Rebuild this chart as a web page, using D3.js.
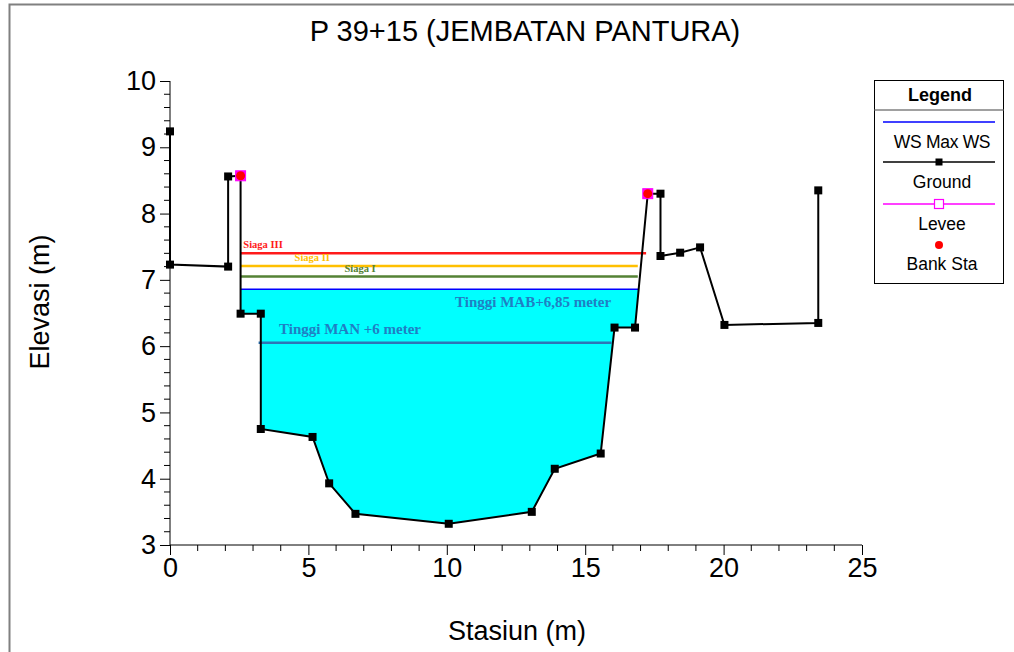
<!DOCTYPE html>
<html><head><meta charset="utf-8">
<script src="https://cdn.jsdelivr.net/npm/d3@7"></script>
<style>html,body{margin:0;padding:0;background:#fff;}svg{display:block;font-family:Arial,"Liberation Sans",sans-serif;}</style>
</head><body>
<svg id="c" width="1014" height="652"></svg>
<script>
const title = "P 39+15 (JEMBATAN PANTURA)";
const groundX = [0, 0, 2.1, 2.1, 2.55, 2.55, 3.28, 3.28, 5.15, 5.75, 6.7, 10.07, 13.07, 13.9, 15.56, 16.06, 16.8, 17.26, 17.72, 17.72, 18.43, 19.15, 20.03, 23.42, 23.42];
const groundY = [9.24, 7.23, 7.2, 8.56, 8.57, 6.49, 6.49, 4.75, 4.63, 3.93, 3.47, 3.32, 3.5, 4.15, 4.38, 6.28, 6.28, 8.3, 8.3, 7.36, 7.41, 7.49, 6.32, 6.35, 8.35];
const leveeX = [2.55, 17.26];
const leveeY = [8.57, 8.3];
const bankX = [2.55, 17.26];
const bankY = [8.57, 8.3];
const wsMax = 6.86;
const siagaNames = ["Siaga III", "Siaga II", "Siaga I"];
const siagaLevels = [7.4, 7.21, 7.05];
const siagaEnd = [17.2, 16.9, 16.9];
const siagaColors = ["#ff1a1a", "#ffc000", "#548235"];
const manLevel = 6.05;
const manRange = [3.2, 15.95];
const xTicks = [0, 5, 10, 15, 20, 25];
const yTicks = [3, 4, 5, 6, 7, 8, 9, 10];

const svg = d3.select("#c");
const x = d3.scaleLinear().domain([0, 25]).range([170, 862]);
const y = d3.scaleLinear().domain([3, 10]).range([545, 81]);

// frame
svg.append("path").attr("d", "M9.5,652 V4.5 H1014").attr("fill", "none").attr("stroke", "#808080").attr("stroke-width", 2);

// title
svg.append("text").attr("x", 525).attr("y", 41).attr("text-anchor", "middle").attr("font-size", 29).text(title);

// water polygon: ground clipped by ws
const pts = groundX.map((d, i) => [d, groundY[i]]);
function interp(a, b, level) { const t = (level - a[1]) / (b[1] - a[1]); return [a[0] + t * (b[0] - a[0]), level]; }
const chan = pts.slice(4, 18);
const poly = [];
for (let i = 0; i < chan.length - 1; i++) {
  const a = chan[i], b = chan[i + 1];
  if (a[1] <= wsMax) poly.push(a);
  if ((a[1] - wsMax) * (b[1] - wsMax) < 0) poly.push(interp(a, b, wsMax));
}
if (chan[chan.length - 1][1] <= wsMax) poly.push(chan[chan.length - 1]);
svg.append("path").attr("d", d3.line().x(d => x(d[0])).y(d => y(d[1]))(poly) + "Z").attr("fill", "#00ffff");
const wsL = poly[0][0], wsR = poly[poly.length - 1][0];

// axes
const xAxis = d3.axisBottom(x).tickValues(xTicks).tickFormat(d3.format("d")).tickSize(10).tickPadding(3);
const gx = svg.append("g").attr("transform", "translate(0,545)").call(xAxis);
gx.selectAll("text").attr("font-size", 27).attr("fill", "#000").attr("font-family", "Arial, Liberation Sans, sans-serif");
gx.select(".domain").attr("stroke", "#000").attr("d", "M170,0H862");
gx.selectAll(".tick line").attr("stroke", "#000");
const xMinor = d3.range(0, 26, 1).filter(v => v % 5 !== 0);
gx.selectAll(".mx").data(xMinor).enter().append("line").attr("x1", d => x(d)).attr("x2", d => x(d)).attr("y1", 0).attr("y2", 6).attr("stroke", "#000");

const yAxis = d3.axisLeft(y).tickValues(yTicks).tickFormat(d3.format("d")).tickSize(10).tickPadding(4);
const gy = svg.append("g").attr("transform", "translate(170,0)").call(yAxis);
gy.selectAll("text").attr("font-size", 27).attr("fill", "#000").attr("font-family", "Arial, Liberation Sans, sans-serif");
gy.select(".domain").attr("stroke", "#000").attr("d", "M0,545V81");
gy.selectAll(".tick line").attr("stroke", "#000");
const yMinor = d3.range(3, 10.001, 0.2).filter(v => Math.abs(v - Math.round(v)) > 0.01);
gy.selectAll(".my").data(yMinor).enter().append("line").attr("y1", d => y(d)).attr("y2", d => y(d)).attr("x1", 0).attr("x2", -6).attr("stroke", "#000");

svg.append("text").attr("x", 517).attr("y", 640).attr("text-anchor", "middle").attr("font-size", 27).text("Stasiun (m)");
svg.append("text").attr("transform", "translate(49,302) rotate(-90)").attr("text-anchor", "middle").attr("font-size", 27).text("Elevasi (m)");

// siaga lines
siagaLevels.forEach((lv, i) => {
  svg.append("line").attr("x1", x(2.55)).attr("x2", x(siagaEnd[i])).attr("y1", y(lv)).attr("y2", y(lv)).attr("stroke", siagaColors[i]).attr("stroke-width", 2.5);
});
const sLabX = [2.65, 4.5, 6.3];
siagaNames.forEach((n, i) => {
  svg.append("text").attr("x", x(sLabX[i])).attr("y", y(siagaLevels[i]) - 5).attr("font-family", "'Liberation Serif','Times New Roman',serif").attr("font-weight", "bold").attr("font-size", 10.5).attr("fill", siagaColors[i]).text(n);
});

// WS line
svg.append("line").attr("x1", x(wsL)).attr("x2", x(wsR)).attr("y1", y(wsMax)).attr("y2", y(wsMax)).attr("stroke", "#0000ff").attr("stroke-width", 1.5);
// MAN line
svg.append("line").attr("x1", x(manRange[0])).attr("x2", x(manRange[1])).attr("y1", y(manLevel)).attr("y2", y(manLevel)).attr("stroke", "#2e75b6").attr("stroke-width", 2.5);
svg.append("text").attr("x", 455).attr("y", 307).attr("font-family", "'Liberation Serif','Times New Roman',serif").attr("font-weight", "bold").attr("font-size", 15).attr("fill", "#1f7fc4").text("Tinggi MAB+6,85 meter");
svg.append("text").attr("x", 279).attr("y", 334).attr("font-family", "'Liberation Serif','Times New Roman',serif").attr("font-weight", "bold").attr("font-size", 15).attr("fill", "#1f7fc4").text("Tinggi MAN +6 meter");

// ground
svg.append("path").attr("d", d3.line().x(d => x(d[0])).y(d => y(d[1]))(pts)).attr("fill", "none").attr("stroke", "#000").attr("stroke-width", 2);
svg.selectAll(".gp").data(pts).enter().append("rect").attr("x", d => x(d[0]) - 4).attr("y", d => y(d[1]) - 4).attr("width", 8).attr("height", 8).attr("fill", "#000");

// levee
leveeX.forEach((lx, i) => {
  svg.append("rect").attr("x", x(lx) - 5).attr("y", y(leveeY[i]) - 5).attr("width", 10).attr("height", 10).attr("fill", "#ff00ff").attr("stroke", "#ff00ff");
});
bankX.forEach((bx, i) => {
  svg.append("circle").attr("cx", x(bx)).attr("cy", y(bankY[i])).attr("r", 4.5).attr("fill", "#ff0000");
});

// legend
const lg = svg.append("g");
lg.append("rect").attr("x", 874.5).attr("y", 80.5).attr("width", 129).attr("height", 203).attr("fill", "#fff").attr("stroke", "#000");
lg.append("line").attr("x1", 874.5).attr("x2", 1003.5).attr("y1", 110).attr("y2", 110).attr("stroke", "#808080").attr("stroke-width", 1.5);
lg.append("text").attr("x", 940).attr("y", 101).attr("text-anchor", "middle").attr("font-weight", "bold").attr("font-size", 18).text("Legend");
const lx1 = 883, lx2 = 1004 - 9, lcx = (lx1 + lx2) / 2;
lg.append("line").attr("x1", lx1).attr("x2", lx2).attr("y1", 122).attr("y2", 122).attr("stroke", "#0000ff").attr("stroke-width", 1.5);
lg.append("text").attr("x", 942).attr("y", 148).attr("text-anchor", "middle").attr("font-size", 17.5).attr("letter-spacing", "-0.3").text("WS Max WS");
lg.append("line").attr("x1", lx1).attr("x2", lx2).attr("y1", 162).attr("y2", 162).attr("stroke", "#000").attr("stroke-width", 1.5);
lg.append("rect").attr("x", lcx - 3.5).attr("y", 158.5).attr("width", 7).attr("height", 7).attr("fill", "#000");
lg.append("text").attr("x", 942).attr("y", 188).attr("text-anchor", "middle").attr("font-size", 17.5).text("Ground");
lg.append("line").attr("x1", lx1).attr("x2", lx2).attr("y1", 204).attr("y2", 204).attr("stroke", "#ff00ff").attr("stroke-width", 1.5);
lg.append("rect").attr("x", lcx - 4.5).attr("y", 199.5).attr("width", 9).attr("height", 9).attr("fill", "#fff").attr("stroke", "#ff00ff").attr("stroke-width", 1.2);
lg.append("text").attr("x", 942).attr("y", 230).attr("text-anchor", "middle").attr("font-size", 17.5).text("Levee");
lg.append("circle").attr("cx", lcx).attr("cy", 245).attr("r", 4).attr("fill", "#ff0000");
lg.append("text").attr("x", 942).attr("y", 270).attr("text-anchor", "middle").attr("font-size", 17.5).text("Bank Sta");
</script>
</body></html>
